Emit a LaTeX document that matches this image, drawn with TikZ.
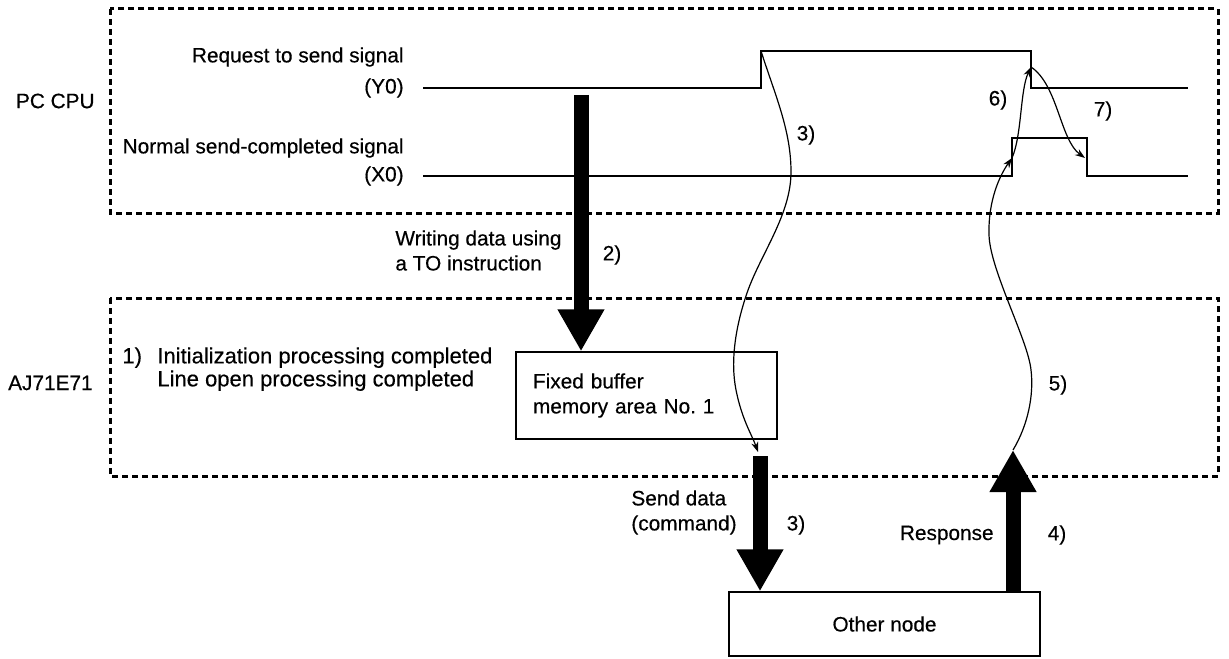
\documentclass[tikz,border=0pt]{standalone}
\usepackage{fontspec}
\setmainfont{Liberation Sans}[FakeBold=0.4]
\usetikzlibrary{arrows.meta}
\begin{document}
\begin{tikzpicture}[x=0.5pt,y=-0.5pt,
  every node/.style={font=\fontsize{10.4}{12.5}\selectfont, inner sep=0pt},
  lbl/.style={align=left},
  bigtext/.style={font=\fontsize{11}{11.5}\selectfont},
  dashframe/.style={line width=1.5pt, dash pattern=on 3pt off 2pt},
  signal/.style={line width=0.8pt},
  boxnode/.style={draw, line width=0.7pt, inner sep=0pt},
  bigarrow/.style={line width=7.5pt, -{Triangle[length=21pt,width=22pt]}},
  thinarrow/.style={line width=0.6pt, -{Stealth[length=5pt,width=3.5pt]}}
]
\useasboundingbox (0,0) rectangle (1229,658);

% frames
\draw[dashframe] (110,9) rectangle (1218,213);
\draw[dashframe] (110,298) rectangle (1218,476);

% left labels
\node[anchor=east] (pccpu) at (95,101) {PC CPU};
\node[anchor=east] (aj) at (93,383) {AJ71E71};

% signal labels
\node[anchor=east] (rts) at (404,57) {Request to send signal};
\node[anchor=east] (y0l) at (404,88) {(Y0)};
\node[anchor=east] (nsc) at (404,148) {Normal send-completed signal};
\node[anchor=east] (x0l) at (404,176) {(X0)};

% signal waveforms
\coordinate (y0s) at (423,88);
\coordinate (y0a) at (761,88);
\coordinate (y0b) at (761,51);
\coordinate (y0c) at (1031,51);
\coordinate (y0d) at (1031,88);
\coordinate (y0e) at (1188,88);
\draw[signal] (y0s) -- (y0a) -- (y0b) -- (y0c) -- (y0d) -- (y0e);
\coordinate (x0s) at (423,176);
\coordinate (x0a) at (1012,176);
\coordinate (x0b) at (1012,138);
\coordinate (x0c) at (1087,138);
\coordinate (x0d) at (1087,176);
\coordinate (x0e) at (1188,176);
\draw[signal] (x0s) -- (x0a) -- (x0b) -- (x0c) -- (x0d) -- (x0e);

% boxes
\node[boxnode, minimum width=130.5pt, minimum height=43.5pt, text width=113.5pt, inner xsep=8.5pt, align=left] (fb) at (646.5,395.5) {Fixed buffer\\memory area No.~1};
\node[boxnode, minimum width=155.5pt, minimum height=32pt] (other) at (884.5,624) {Other node};

% step 1 text
\node[anchor=north west, lbl, bigtext] (init) at (157,347) {Initialization processing completed\\Line open processing completed};
\node[anchor=north west, bigtext] (n1) at (122,347) {1)};

% arrow 2
\coordinate (a2s) at (581,95);
\draw[bigarrow] (a2s) -- (a2s |- fb.north);
\node[anchor=west, lbl] (wr) at (395,250.5) {Writing data using\\a TO instruction};
\node (n2) at (612,255) {2)};

% send data arrow
\coordinate (sds) at (760,456);
\draw[bigarrow] (sds) -- (sds |- other.north);
\node[anchor=west, lbl] (sd) at (631,512.5) {Send data\\(command)};
\node (n3b) at (796,525) {3)};

% response arrow
\coordinate (rsp) at (1013,450);
\draw[bigarrow] (rsp |- other.north) -- (rsp);
\node[anchor=east] (resp) at (994,535) {Response};
\node (n4) at (1057,535) {4)};

% curve 3
\coordinate (c3a) at (791,172);
\coordinate (c3b) at (747,293);
\coordinate (c3c) at (736,390);
\coordinate (c3e) at (758,452);
\draw[thinarrow] (y0b) .. controls (775,95) and (791,130) .. (c3a)
  .. controls (791,215) and (760,255) .. (c3b)
  .. controls (736,325) and (730,360) .. (c3c)
  .. controls (742,420) and (752,435) .. (c3e);
\node (n3a) at (806,135) {3)};

% curve 5
\coordinate (c5a) at (1031,370);
\coordinate (c5b) at (989,235);
\coordinate (c5e) at (1012,158);
\draw[thinarrow] (rsp) .. controls (1028,425) and (1034,395) .. (c5a)
  .. controls (1028,340) and (990,270) .. (c5b)
  .. controls (988,200) and (1000,175) .. (c5e);
\node (n5) at (1058,385) {5)};

% curve 6
\coordinate (c6e) at (1031,67);
\draw[thinarrow] (c5e) .. controls (1022,135) and (1020,90) .. (c6e);
\node (n6) at (998,100) {6)};

% curve 7
\coordinate (c7e) at (1085,158);
\draw[thinarrow] (c6e) .. controls (1058,85) and (1060,140) .. (c7e);
\node (n7) at (1103,111) {7)};
\end{tikzpicture}
\end{document}
